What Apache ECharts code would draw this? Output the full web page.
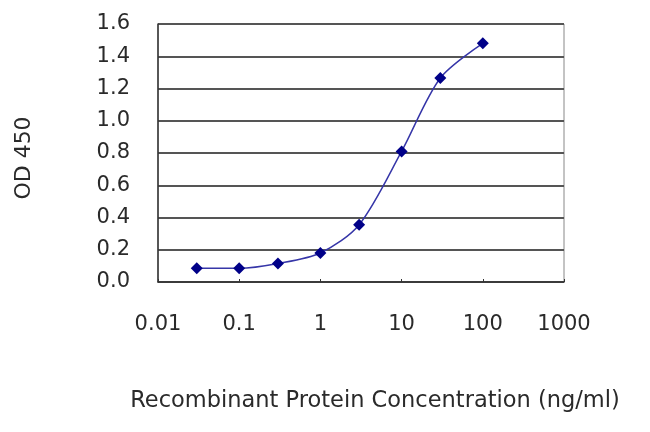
<!DOCTYPE html>
<html><head><meta charset="utf-8">
<script src="https://cdn.jsdelivr.net/npm/echarts@6/dist/echarts.min.js"></script>
<style>html,body{margin:0;padding:0;background:#fff}#c{width:650px;height:432px}</style>
</head><body><div id="c"></div>
<script>
var concentrations = [0.03, 0.1, 0.3, 1, 3, 10, 30, 100];
var od450 = [0.085, 0.085, 0.115, 0.18, 0.355, 0.81, 1.265, 1.48];
var xTickLabels = ['0.01', '0.1', '1', '10', '100', '1000'];
var xAxisTitle = 'Recombinant Protein Concentration (ng/ml)';
var yAxisTitle = 'OD 450';

var chart = echarts.init(document.getElementById('c'));
var font = 'DejaVu Sans, sans-serif';
chart.setOption({
  animation: false,
  grid: {left: 158, right: 86, top: 24, bottom: 150, outerBoundsMode: 'none', containLabel: false,
    show: true, borderColor: '#888', borderWidth: 1, backgroundColor: '#fff'},
  xAxis: {
    type: 'log', logBase: 10, min: 0.01, max: 1000,
    name: xAxisTitle, nameLocation: 'middle', nameGap: 108, nameMoveOverlap: false,
    nameTextStyle: {fontFamily: font, fontSize: 22.5, color: '#2a2a2a', padding: [0, 0, 0, 28]},
    axisLine: {show: true, lineStyle: {color: '#333', width: 1.5}},
    axisTick: {show: true, inside: true, length: 3, lineStyle: {color: '#333'}},
    minorTick: {show: false},
    splitLine: {show: false},
    axisLabel: {fontFamily: font, fontSize: 21, color: '#2a2a2a', margin: 32,
      formatter: function (v) { var i = Math.round(Math.log10(v)) + 2; return xTickLabels[i] || ''; }}
  },
  yAxis: {
    type: 'value', min: 0, max: 1.6, interval: 0.2,
    name: yAxisTitle, nameLocation: 'middle', nameGap: 123, nameRotate: 90,
    nameTextStyle: {fontFamily: font, fontSize: 22, color: '#2a2a2a', padding: [0, 10, 0, 0]},
    axisLine: {show: true, lineStyle: {color: '#333', width: 1.5}},
    axisTick: {show: false},
    splitLine: {show: true, lineStyle: {color: '#555', width: 2}},
    axisLabel: {fontFamily: font, fontSize: 21, color: '#2a2a2a', margin: 28,
      formatter: function (v) { return v.toFixed(1); }}
  },
  series: [{
    type: 'line',
    data: concentrations.map(function (c, i) { return [c, od450[i]]; }),
    smooth: 0.3,
    symbol: 'diamond', symbolSize: 12,
    lineStyle: {color: '#3636a8', width: 1.5},
    itemStyle: {color: '#000088'}
  }]
});
</script></body></html>
